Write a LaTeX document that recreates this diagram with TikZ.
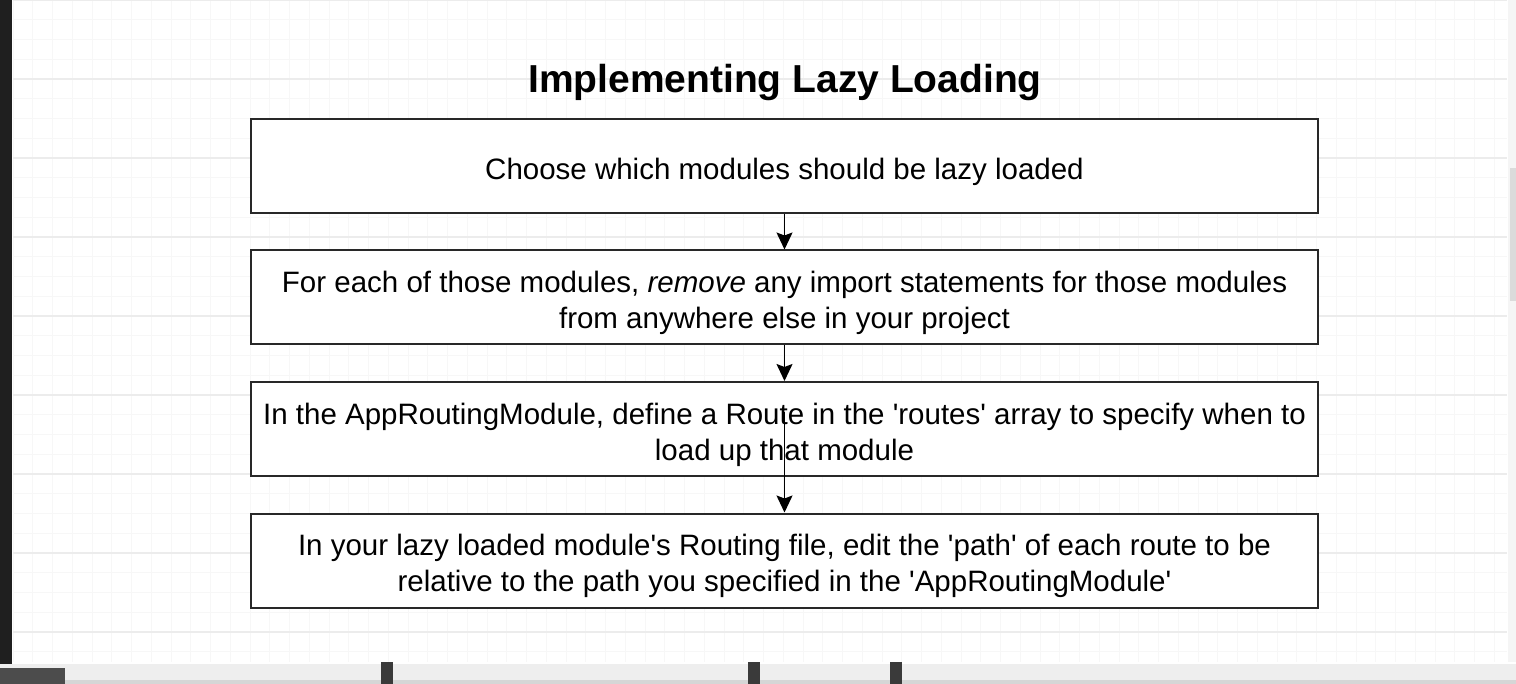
\documentclass[tikz,border=0pt]{standalone}
\usepackage{fontspec}
\setmainfont{Liberation Sans}
\usepackage{tikz}
\usetikzlibrary{arrows.meta,positioning,calc}
\usepackage{xcolor}
\definecolor{gridminor}{RGB}{247,247,247}
\definecolor{gridmajor}{RGB}{236,236,236}
\definecolor{boxline}{RGB}{40,40,40}
\definecolor{barbg}{RGB}{238,238,238}
\definecolor{bardark}{RGB}{58,58,58}
\newcommand{\padtop}{\rule{0pt}{33pt}}
\newcommand{\sq}{\textquotesingle}

\begin{document}
\begin{tikzpicture}[x=1pt,y=-1pt,node distance=35.5pt,
lazybox/.style={draw=boxline,line width=2pt,fill=white,minimum width=1067pt,
minimum height=94pt,align=center,font=\fontsize{29.5}{36}\selectfont},
flow/.style={line width=1.6pt,-{Stealth[length=17pt,width=16pt,inset=3pt]}}]
\useasboundingbox (0,0) rectangle (1516,684);
\fill[white] (0,0) rectangle (1516,684);
% grid
\foreach \k in {0,...,75}
  \draw[gridminor,line width=1pt] ({13+19.75*\k},0) -- ({13+19.75*\k},662);
\foreach \k in {0,...,33}
  \draw[gridminor,line width=1pt] (13,{19.75*\k}) -- (1507,{19.75*\k});
\foreach \k in {0,...,8}
  \draw[gridmajor,line width=1.2pt] (13,{79*\k}) -- (1507,{79*\k});
% window chrome
\fill[black!88] (0,0) rectangle (12,684);
\fill[white!96!black] (1508,0) rectangle (1516,662);
\fill[black!14] (1510,168) rectangle (1516,301);
\fill[barbg] (0,664) rectangle (1516,684);
\fill[black!16] (0,680) rectangle (1516,684);
\fill[black!70] (0,668) rectangle (65,684);
\foreach \m in {381,748,890}
  \fill[bardark] (\m,662) rectangle ({\m+12},684);

\node[font=\fontsize{39}{44}\selectfont\bfseries] (title) at (785,83)
{Implementing Lazy Loading};
\node[lazybox] (choose) at (784.5,166)
{\padtop Choose which modules should be lazy loaded};
\node[lazybox,below=of choose] (remove)
{\padtop For each of those modules, \textit{remove} any import statements for those modules\\
from anywhere else in your project};
\node[lazybox,below=of remove] (route)
{\padtop In the AppRoutingModule, define a Route in the \sq routes\sq{} array to specify when to\\
load up that module};
\node[lazybox,below=of route] (relpath)
{\padtop In your lazy loaded module\sq s Routing file, edit the \sq path\sq{} of each route to be\\
relative to the path you specified in the \sq AppRoutingModule\sq};
\coordinate (routeup) at ($(route.center)+(0,-17)$);

\draw[flow] (choose) -- (remove);
\draw[flow] (remove) -- (route);
\draw[flow] (routeup) -- (relpath.north);
\end{tikzpicture}
\end{document}
